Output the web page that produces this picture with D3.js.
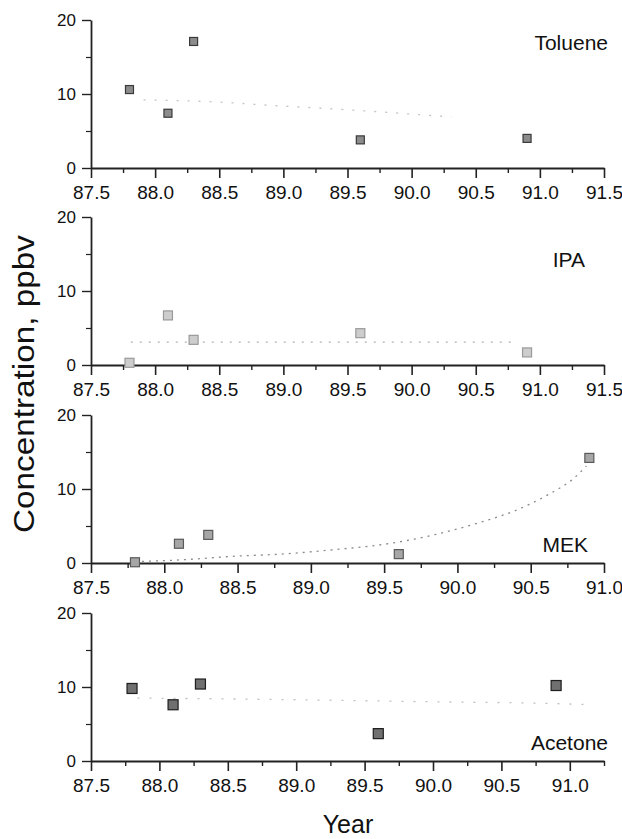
<!DOCTYPE html>
<html>
<head>
<meta charset="utf-8">
<script src="https://cdn.jsdelivr.net/npm/d3@7"></script>
<style>
  body { margin: 0; background: #fff; }
  text { font-family: "Liberation Sans", Arial, sans-serif; fill: #111; }
</style>
</head>
<body>
<div id="chart"></div>
<script>
// sampling years and measured concentrations (ppbv)
var years = [87.8, 88.1, 88.3, 89.6, 90.9];
var toluene = [10.6, 7.4, 17.1, 3.8, 4.0];
var ipa = [0.3, 6.7, 3.4, 4.3, 1.7];
var mek = [0.1, 2.6, 3.8, 1.2, 14.2];
var acetone = [9.8, 7.6, 10.4, 3.7, 10.2];

// fitted trend curves
var tolueneTrendX = [87.91, 88.5, 88.87, 89.56, 90.31];
var tolueneTrendY = [9.2, 8.9, 8.5, 7.8, 6.9];
var ipaTrendX = [87.81, 90.78];
var ipaTrendY = [3.1, 3.1];
var mekTrendX = [87.8, 88.1, 88.51, 88.78, 89.21, 89.42, 89.86, 90.14, 90.41, 90.62, 90.79, 90.88];
var mekTrendY = [0.18, 0.41, 0.95, 1.18, 1.9, 2.31, 3.9, 5.4, 7.21, 9.25, 11.39, 13.1];
var acetoneTrendX = [87.84, 88.45, 89.3, 90.0, 90.8, 91.17];
var acetoneTrendY = [8.5, 8.4, 8.2, 8.0, 7.8, 7.6];

var yTicks = [0, 10, 20];

var svgWidth = 622, svgHeight = 839;

var svg = d3.select("#chart")
  .append("svg")
  .attr("width", svgWidth)
  .attr("height", svgHeight);

var panels = [
  { name: "Toluene", vals: toluene, tx: tolueneTrendX, ty: tolueneTrendY, xmax: 91.5, top: 20,
    fill: "#8c8c8c", stroke: "#3a3a3a", size: 8, trend: "#c4c4c4", dash: "2,9",
    lab: { x: 608, y: 50 } },
  { name: "IPA", vals: ipa, tx: ipaTrendX, ty: ipaTrendY, xmax: 91.5, top: 217,
    fill: "#cdcdcd", stroke: "#9a9a9a", size: 9, trend: "#b0b0b0", dash: "2,7",
    lab: { x: 585, y: 267 } },
  { name: "MEK", vals: mek, tx: mekTrendX, ty: mekTrendY, xmax: 91.0, top: 415,
    fill: "#a6a6a6", stroke: "#5a5a5a", size: 9, trend: "#8a8a8a", dash: "2,5",
    lab: { x: 588, y: 552 } },
  { name: "Acetone", vals: acetone, tx: acetoneTrendX, ty: acetoneTrendY, xmax: 91.25, top: 613,
    fill: "#707070", stroke: "#1e1e1e", size: 10, trend: "#c0c0c0", dash: "2,10",
    lab: { x: 608, y: 750 } }
];

var plotLeft = 91, plotRight = 604, plotH = 148;

panels.forEach(function(p) {
  var x = d3.scaleLinear().domain([87.5, p.xmax]).range([plotLeft, plotRight]);
  var y = d3.scaleLinear().domain([0, 20]).range([p.top + plotH, p.top]);

  var g = svg.append("g");

  // x axis: majors every 0.5, minors every 0.25
  var majors = d3.range(87.5, p.xmax + 0.001, 0.5);
  var minors = d3.range(87.75, p.xmax + 0.001, 0.5);

  var xAxis = g.append("g")
    .attr("transform", `translate(0, ${y(0)})`)
    .call(d3.axisBottom(x).tickValues(majors).tickSize(10).tickSizeOuter(0)
      .tickFormat(d3.format(".1f")));
  xAxis.select(".domain").attr("stroke", "#222").attr("stroke-width", 2);
  xAxis.selectAll(".tick line").attr("stroke", "#222").attr("stroke-width", 1.6);
  xAxis.selectAll(".tick text")
    .attr("font-size", 19).attr("dy", "0.95em").attr("fill", "#111")
    .attr("font-family", "Liberation Sans, Arial, sans-serif");

  g.append("g")
    .attr("transform", `translate(0, ${y(0)})`)
    .call(d3.axisBottom(x).tickValues(minors).tickSize(5).tickFormat(""))
    .call(function(s) { s.select(".domain").remove(); })
    .selectAll(".tick line").attr("stroke", "#222").attr("stroke-width", 1.4);

  // y axis
  var yAxis = g.append("g")
    .attr("transform", `translate(${plotLeft}, 0)`)
    .call(d3.axisLeft(y).tickValues(yTicks).tickSize(9).tickSizeOuter(0).tickPadding(6));
  yAxis.select(".domain").attr("stroke", "#222").attr("stroke-width", 1.8);
  yAxis.selectAll(".tick line").attr("stroke", "#222").attr("stroke-width", 1.4);
  yAxis.selectAll(".tick text")
    .attr("font-size", 17).attr("fill", "#111")
    .attr("font-family", "Liberation Sans, Arial, sans-serif");

  g.append("g")
    .attr("transform", `translate(${plotLeft}, 0)`)
    .call(d3.axisLeft(y).tickValues([5, 15]).tickSize(5).tickFormat(""))
    .call(function(s) { s.select(".domain").remove(); })
    .selectAll(".tick line").attr("stroke", "#222").attr("stroke-width", 1.2);

  // trend line
  var trendPts = p.tx.map(function(v, i) { return [v, p.ty[i]]; });
  var line = d3.line()
    .x(function(d) { return x(d[0]); })
    .y(function(d) { return y(d[1]); })
    .curve(d3.curveMonotoneX);
  g.append("path")
    .datum(trendPts)
    .attr("d", line)
    .attr("fill", "none")
    .attr("stroke", p.trend)
    .attr("stroke-width", 1.3)
    .attr("stroke-dasharray", p.dash);

  // square markers
  g.selectAll("rect.pt")
    .data(years)
    .enter()
    .append("rect")
    .attr("class", "pt")
    .attr("x", function(d) { return x(d) - p.size / 2; })
    .attr("y", function(d, i) { return y(p.vals[i]) - p.size / 2; })
    .attr("width", p.size)
    .attr("height", p.size)
    .attr("fill", p.fill)
    .attr("stroke", p.stroke)
    .attr("stroke-width", 1.2);

  // compound name
  g.append("text")
    .attr("x", p.lab.x)
    .attr("y", p.lab.y)
    .attr("text-anchor", "end")
    .attr("font-size", 21)
    .text(p.name);
});

// axis titles
svg.append("text")
  .attr("transform", "translate(34, 384) rotate(-90)")
  .attr("text-anchor", "middle")
  .attr("font-size", 29)
  .attr("textLength", 298)
  .attr("lengthAdjust", "spacingAndGlyphs")
  .text("Concentration, ppbv");

svg.append("text")
  .attr("x", 348)
  .attr("y", 833)
  .attr("text-anchor", "middle")
  .attr("font-size", 25)
  .text("Year");
</script>
</body>
</html>
